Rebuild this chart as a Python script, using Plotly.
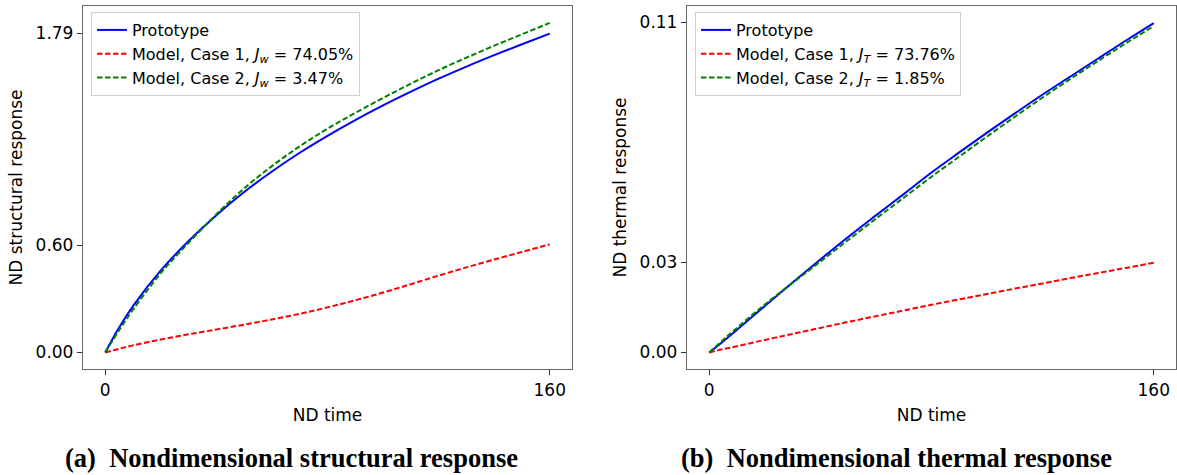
import plotly.graph_objects as go

# ---- data ----
t = [0, 5, 10, 20, 30, 40, 50, 60, 70, 80, 90, 100, 110, 120, 130, 140, 150, 160]

s_proto = [0, 0.14, 0.26, 0.46, 0.625, 0.77, 0.90, 1.015, 1.12, 1.215, 1.303, 1.385, 1.462, 1.535, 1.603, 1.667, 1.728, 1.788]
s_case1 = [0, 0.021, 0.04, 0.073, 0.102, 0.129, 0.156, 0.185, 0.217, 0.253, 0.293, 0.336, 0.383, 0.431, 0.477, 0.521, 0.564, 0.606]
s_case2 = [0, 0.125, 0.24, 0.445, 0.615, 0.775, 0.92, 1.045, 1.156, 1.255, 1.343, 1.427, 1.507, 1.583, 1.653, 1.72, 1.784, 1.848]

th_proto = [0, 0.0037, 0.0076, 0.0155, 0.0233, 0.031, 0.0385, 0.0457, 0.0528, 0.06, 0.0667, 0.0733, 0.0797, 0.086, 0.092, 0.098, 0.104, 0.1098]
th_case1 = [0, 0.0011, 0.0021, 0.0042, 0.0062, 0.0082, 0.0102, 0.0121, 0.014, 0.0159, 0.0177, 0.0195, 0.0213, 0.023, 0.0248, 0.0265, 0.0282, 0.0299]
th_case2 = [0, 0.0042, 0.0082, 0.016, 0.0232, 0.0303, 0.0375, 0.0446, 0.0516, 0.0586, 0.0653, 0.072, 0.0786, 0.085, 0.0912, 0.0972, 0.1031, 0.1088]

x_ticks = [0, 160]
s_ticks = [0.0, 0.60, 1.79]
s_ticktext = ["0.00", "0.60", "1.79"]
th_ticks = [0.0, 0.03, 0.11]
th_ticktext = ["0.00", "0.03", "0.11"]

names_s = ["Prototype", "Model, Case 1, <i>J<sub>w</sub></i> = 74.05%", "Model, Case 2, <i>J<sub>w</sub></i> = 3.47%"]
names_th = ["Prototype", "Model, Case 1, <i>J<sub>T</sub></i> = 73.76%", "Model, Case 2, <i>J<sub>T</sub></i> = 1.85%"]
captions = ["(a)  Nondimensional structural response", "(b)  Nondimensional thermal response"]

colors = ["#0000ff", "#ff0000", "#008000"]
dashes = ["solid", "5.5px,2.5px", "5.5px,2.5px"]

W, H = 1177, 475
fig = go.Figure()

for ys, nm, c, d in zip([s_proto, s_case1, s_case2], names_s, colors, dashes):
    fig.add_trace(go.Scatter(x=t, y=ys, mode="lines", name=nm, line=dict(color=c, width=2, dash=d, shape="spline"),
                             xaxis="x", yaxis="y", legend="legend"))
for ys, nm, c, d in zip([th_proto, th_case1, th_case2], names_th, colors, dashes):
    fig.add_trace(go.Scatter(x=t, y=ys, mode="lines", name=nm, line=dict(color=c, width=2, dash=d, shape="spline"),
                             xaxis="x2", yaxis="y2", legend="legend2"))

font = dict(family="DejaVu Sans", size=17, color="#000")
ax_common = dict(showline=True, linecolor="#666", linewidth=1.3, mirror=True, ticks="outside", ticklen=5,
                 tickwidth=1.2, tickcolor="#333", showgrid=False, zeroline=False, tickfont=font)

yd = [(H - 369) / H, (H - 6) / H]
legfont = dict(family="DejaVu Sans", size=16, color="#000")
fig.update_layout(
    width=W, height=H, margin=dict(l=0, r=0, t=0, b=0),
    paper_bgcolor="white", plot_bgcolor="white", font=font,
    xaxis=dict(domain=[83 / W, 572 / W], range=[-8, 168], tickvals=x_ticks, ticktext=["0", "160"],
               title=dict(text="ND time", font=font, standoff=10), anchor="y", **ax_common),
    yaxis=dict(domain=yd, range=[-0.0925, 1.9425], tickvals=s_ticks, ticktext=s_ticktext,
               title=dict(text="ND structural response", font=font, standoff=8), anchor="x", **ax_common),
    xaxis2=dict(domain=[687 / W, 1176 / W], range=[-8, 168], tickvals=x_ticks, ticktext=["0", "160"],
                title=dict(text="ND time", font=font, standoff=10), anchor="y2", **ax_common),
    yaxis2=dict(domain=yd, range=[-0.0055, 0.1155], tickvals=th_ticks, ticktext=th_ticktext,
                title=dict(text="ND thermal response", font=font, standoff=8), anchor="x2", **ax_common),
    legend=dict(x=91 / W, y=(H - 12) / H, xanchor="left", yanchor="top", bgcolor="white",
                bordercolor="#d0d0d0", borderwidth=1, font=legfont, tracegroupgap=0),
    legend2=dict(x=695 / W, y=(H - 12) / H, xanchor="left", yanchor="top", bgcolor="white",
                 bordercolor="#d0d0d0", borderwidth=1, font=legfont, tracegroupgap=0),
    showlegend=True,
)

for cx, txt in zip([291 / W, 896 / W], captions):
    fig.add_annotation(x=cx, y=(H - 458) / H, xref="paper", yref="paper", text="<b>" + txt + "</b>",
                       showarrow=False, xanchor="center", yanchor="middle",
                       font=dict(family="Liberation Serif", size=26.5, color="#000"))

fig.write_html("out.html", config={"displayModeBar": False})

# remove default page margins so the figure fills the window exactly
with open("out.html", "r", encoding="utf-8") as f:
    html = f.read()
html = html.replace("<head>", "<head><style>html,body{margin:0;padding:0;overflow:hidden;}</style>", 1)
with open("out.html", "w", encoding="utf-8") as f:
    f.write(html)
